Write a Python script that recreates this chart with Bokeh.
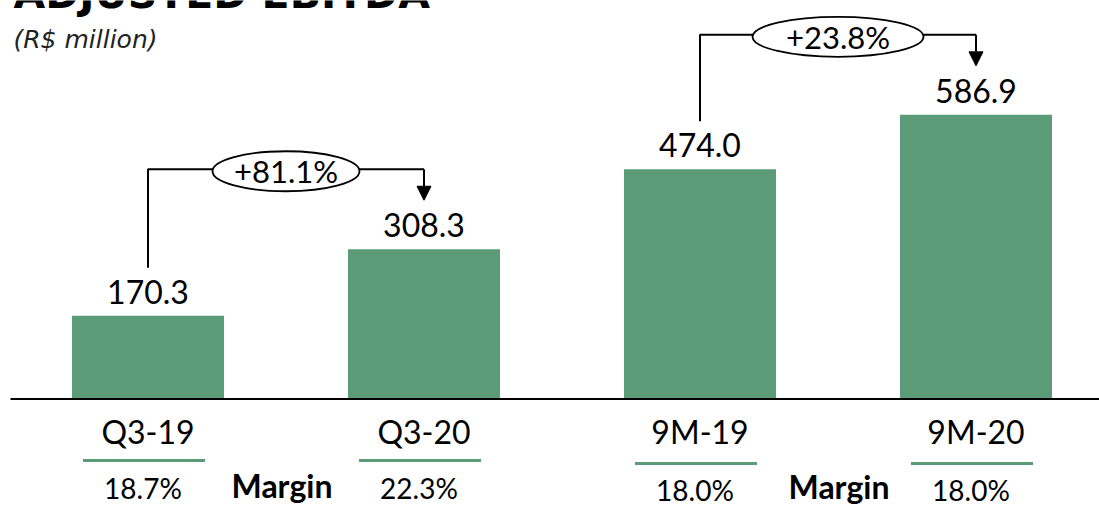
from bokeh.plotting import figure
from bokeh.models import Range1d, Arrow, NormalHead
from bokeh.core.properties import value
from bokeh.embed import file_html
from bokeh.resources import INLINE

# Adjusted EBITDA, R$ million
periods = ["Q3-19", "Q3-20", "9M-19", "9M-20"]
ebitda = [170.3, 308.3, 474.0, 586.9]
margins = ["18.7%", "22.3%", "18.0%", "18.0%"]
growth_labels = ["+81.1%", "+23.8%"]
growth_pairs = [(0, 1), (2, 3)]

W, H = 1099, 506
SCALE = 0.4825      # pixels per R$ million
BASE_PX = 397.5     # pixel row of the zero line, from the top
GREEN = "#5b9b78"
FONT = "Lato"
DROP = 0.37         # svg text baseline sits this many em below the anchor


def py(pix):
    """Data y for a pixel row counted from the top."""
    return (BASE_PX - pix) / SCALE


def dy(pix):
    """Data height for a pixel distance."""
    return pix / SCALE


def base(pix, size):
    """Anchor y that puts a text baseline on pixel row `pix`."""
    return py(pix - DROP * size)


p = figure(width=W, height=H, output_backend="svg", toolbar_location=None,
           x_range=Range1d(0, W), y_range=Range1d(py(H), py(0)),
           min_border=0, outline_line_color=None)
p.axis.visible = False
p.grid.visible = False
p.background_fill_color = "white"
p.border_fill_color = "white"

xs = [147.5 + 276 * i for i in range(len(periods))]

# bars
p.vbar(x=xs, top=ebitda, bottom=0, width=152, fill_color=GREEN, line_color=None)

# zero line
p.segment(x0=[10], y0=[-dy(1)], x1=[W], y1=[-dy(1)], line_color="black", line_width=2)

# value labels
p.text(x=xs, y=[v + dy(12 + DROP * 32) for v in ebitda], text=[f"{v:.1f}" for v in ebitda],
       text_font=value(FONT), text_font_size="32px", text_color="black",
       text_align="center", text_baseline="alphabetic")

# category labels
p.text(x=xs, y=[base(443, 32)] * 4, text=periods,
       text_font=value(FONT), text_font_size="32px", text_color="black",
       text_align="center", text_baseline="alphabetic")

# green rules under categories
rule_y = [py(460), py(460), py(463), py(463)]
p.segment(x0=[x - 65 for x in xs], y0=rule_y, x1=[x + 57 for x in xs], y1=rule_y,
          line_color=GREEN, line_width=3)

# margins
margin_y = [base(498, 28), base(498, 28), base(500, 28), base(500, 28)]
p.text(x=[x - 5 for x in xs], y=margin_y, text=margins,
       text_font=value(FONT), text_font_size="28px", text_color="black",
       text_align="center", text_baseline="alphabetic")
p.text(x=[(xs[0] + xs[1]) / 2 - 4, (xs[2] + xs[3]) / 2 + 1],
       y=[base(497, 32), base(498, 32)], text=["Margin", "Margin"],
       text_font=value(FONT), text_font_size="32px", text_font_style="bold",
       text_color="black", text_align="center", text_baseline="alphabetic")

# growth brackets
ellipse_w = [147, 171]
for (a, b), lab, ew in zip(growth_pairs, growth_labels, ellipse_w):
    xa, xb = xs[a], xs[b]
    y_leg = ebitda[a] + dy(48)
    y_top = ebitda[b] + dy(80)
    y_tip = ebitda[b] + dy(49)
    p.line(x=[xa, xa, xb], y=[y_leg, y_top, y_top], line_color="black", line_width=2)
    p.add_layout(Arrow(end=NormalHead(size=14, fill_color="black", line_color="black"),
                       x_start=xb, y_start=y_top, x_end=xb, y_end=y_tip,
                       line_color="black", line_width=2))
    xm = (xa + xb) / 2
    p.ellipse(x=[xm], y=[y_top + dy(-2)], width=[ew], height=[dy(40)],
              fill_color="white", line_color="black", line_width=1.8)
    p.text(x=[xm], y=[y_top + dy(-2)], text=[lab],
           text_font=value(FONT), text_font_size="31px", text_color="black",
           text_align="center", text_baseline="middle")

# title and unit
p.text(x=[13], y=[base(9, 41)], text=["ADJUSTED EBITDA"],
       text_font=value("DejaVu Sans"), text_font_size="41px", text_font_style="bold",
       text_color="black", text_align="left", text_baseline="alphabetic")
p.text(x=[13], y=[base(48, 25)], text=["(R$ million)"],
       text_font=value("DejaVu Sans"), text_font_size="25px", text_font_style="italic",
       text_color="#222222", text_align="left", text_baseline="alphabetic")

open("out.html", "w").write(file_html(p, INLINE))
